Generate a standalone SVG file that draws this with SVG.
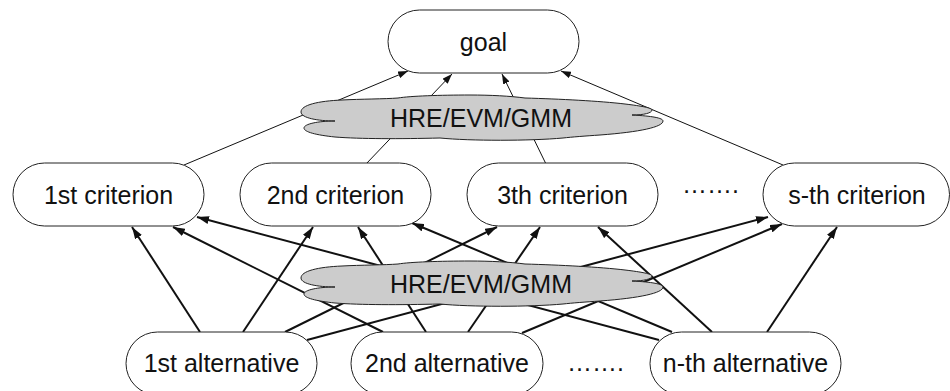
<svg xmlns="http://www.w3.org/2000/svg" width="950" height="391" viewBox="0 0 950 391">
<style>
.box{fill:#fff;stroke:#222;stroke-width:1}
.cloud{fill:#cccccc;stroke:#222;stroke-width:1}
text{font-family:"Liberation Sans",Arial,Helvetica,sans-serif;font-size:25px;fill:#111;text-anchor:middle}
.thin{stroke:#111;stroke-width:1;fill:none;marker-end:url(#ah1)}
.thick{stroke:#111;stroke-width:2;fill:none;marker-end:url(#ah2)}
</style>
<defs>
<marker id="ah1" viewBox="0 0 10 7" refX="10" refY="3.5" markerWidth="10" markerHeight="7" markerUnits="userSpaceOnUse" orient="auto"><path d="M0,0 L10,3.5 L0,7 z" fill="#111"/></marker>
<marker id="ah2" viewBox="0 0 12 8" refX="12" refY="4" markerWidth="12" markerHeight="8" markerUnits="userSpaceOnUse" orient="auto"><path d="M0,0 L12,4 L0,8 z" fill="#111"/></marker>
<path id="cloudshape" d="M335,121 C318,121 301,118 301,112 C301,105 318,101 342,100 C360,99 385,99 398,98 C410,96 440,95 470,95 C490,95 510,96 525,98 C560,99 600,101 625,104 C642,106 652,108 652,110 C652,113 644,115 632,115 C652,116 663,118 663,121 C663,127 640,132 600,135 C585,136 572,137 563,138 C530,141 470,141 440,138 C400,139 360,139 335,137 C316,135 304,132 304,128 C304,124 318,121 335,121 Z"/>
</defs>
<g id="connectors">
<line class="thin" x1="184" y1="165" x2="408" y2="71"/>
<line class="thin" x1="366" y1="164" x2="452" y2="74"/>
<line class="thin" x1="546" y1="164" x2="502" y2="74"/>
<line class="thin" x1="783" y1="165" x2="561" y2="71"/>
<line class="thick" x1="200" y1="332" x2="132" y2="227"/>
<line class="thick" x1="243" y1="332" x2="313" y2="227"/>
<line class="thick" x1="285" y1="332" x2="497" y2="227"/>
<line class="thick" x1="307" y1="340" x2="768" y2="217"/>
<line class="thick" x1="383" y1="332" x2="173" y2="227"/>
<line class="thick" x1="426" y1="332" x2="358" y2="227"/>
<line class="thick" x1="468" y1="332" x2="540" y2="227"/>
<line class="thick" x1="522" y1="333" x2="782" y2="224"/>
<line class="thick" x1="659" y1="340" x2="197" y2="217"/>
<line class="thick" x1="672" y1="332" x2="412" y2="223"/>
<line class="thick" x1="712" y1="332" x2="598" y2="227"/>
<line class="thick" x1="767" y1="332" x2="837" y2="227"/>
</g>
<g id="goal"><rect class="box" x="388" y="10" width="191" height="63" rx="31.5"/><text x="483.5" y="51">goal</text></g>
<g id="method-top"><use href="#cloudshape" class="cloud"/><text x="481" y="127">HRE/EVM/GMM</text></g>
<g id="criterion1"><rect class="box" x="13" y="163" width="191" height="63" rx="31.5"/><text x="108.5" y="204">1st criterion</text></g>
<g id="criterion2"><rect class="box" x="240" y="163" width="191" height="63" rx="31.5"/><text x="335.5" y="204">2nd criterion</text></g>
<g id="criterion3"><rect class="box" x="467" y="163" width="191" height="63" rx="31.5"/><text x="562.5" y="204">3th criterion</text></g>
<g id="criterion-dots"><text x="710.5" y="193">…….</text></g>
<g id="criterion-s"><rect class="box" x="763" y="163" width="186.5" height="63" rx="31.5"/><text x="857" y="204">s-th criterion</text></g>
<g id="method-bottom"><use href="#cloudshape" class="cloud" transform="translate(0,166)"/><text x="481" y="293">HRE/EVM/GMM</text></g>
<g id="alternative1"><rect class="box" x="126" y="332" width="191" height="63" rx="31.5"/><text x="221.5" y="372">1st alternative</text></g>
<g id="alternative2"><rect class="box" x="351" y="332" width="192" height="63" rx="31.5"/><text x="447" y="372">2nd alternative</text></g>
<g id="alternative-dots"><text x="595.5" y="371">…….</text></g>
<g id="alternative-n"><rect class="box" x="650" y="332" width="191" height="63" rx="31.5"/><text x="745.5" y="372">n-th alternative</text></g>
</svg>
